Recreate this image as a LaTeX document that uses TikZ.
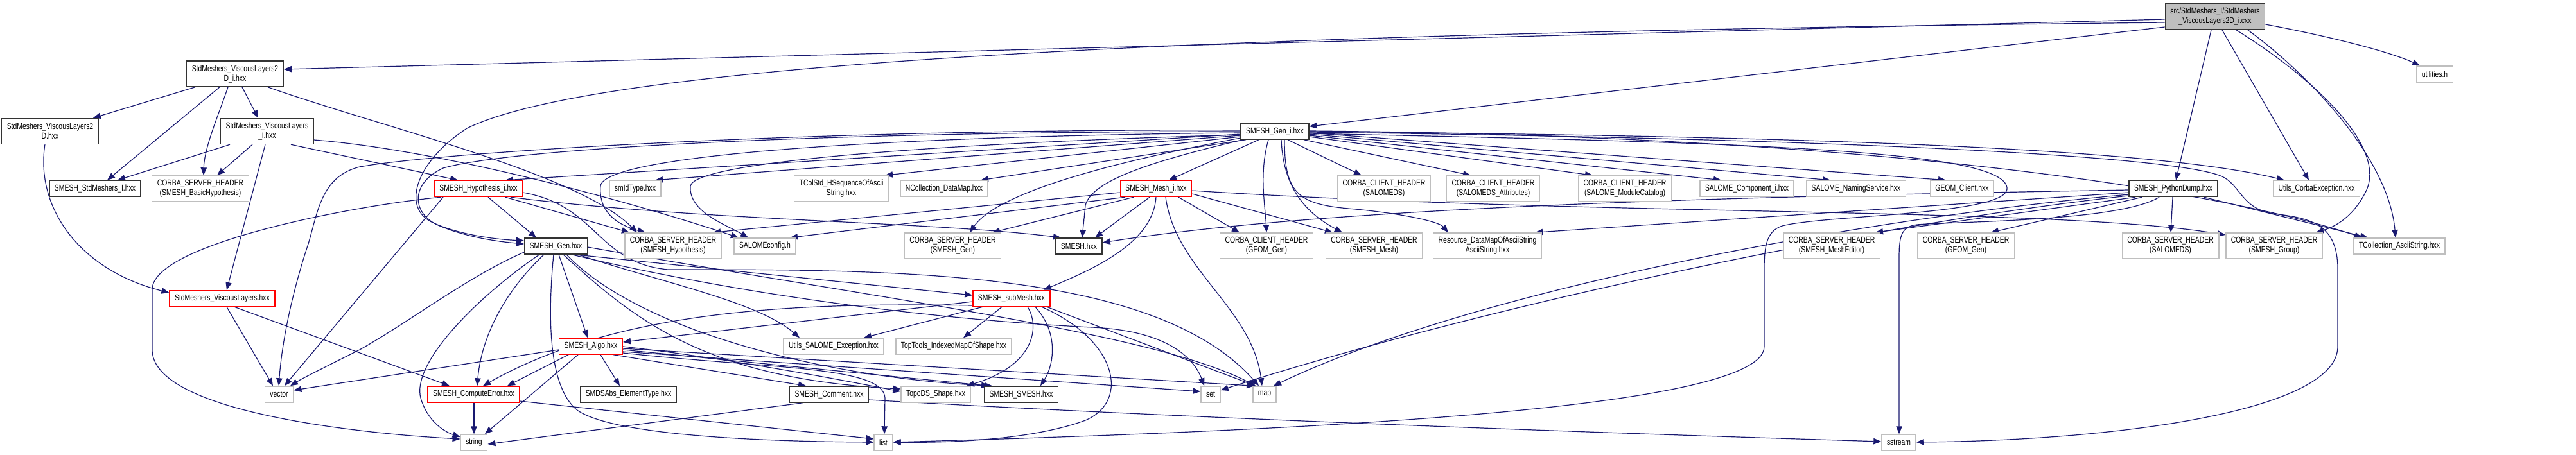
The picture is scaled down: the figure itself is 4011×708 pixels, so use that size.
\documentclass[tikz,border=0pt]{standalone}
\usepackage{fontspec}
\setmainfont{Liberation Sans}[FakeStretch=0.78]
\usetikzlibrary{arrows.meta}
\definecolor{mblue}{HTML}{191970}
\definecolor{gbord}{HTML}{BFBFBF}
\definecolor{gfill}{HTML}{BFBFBF}
\pgfdeclarelayer{bg}
\pgfsetlayers{bg,main}
\newcommand\nd[6]{\node[#1, minimum height=#5*0.75pt] (#2) at (#3,#4) {#6};}
\tikzset{
 base/.style={rectangle, inner xsep=6pt, inner ysep=0pt, align=center, font=\fontsize{10}{11.25}\selectfont, fill=white, line width=1.1pt},
 nblack/.style={base, draw=black!80},
 ngrey/.style={base, draw=gbord},
 nred/.style={base, draw=red},
 nroot/.style={base, draw=black!80, fill=gfill},
 edg/.style={draw=mblue, line width=0.9pt, -{Triangle[length=9pt,width=7pt]}}
}
\begin{document}
\begin{tikzpicture}[x=0.75pt,y=-0.75pt]
\useasboundingbox (0,0) rectangle (4011,708);
\nd{nroot}{root}{3449}{26}{40}{src/StdMeshers\_I/StdMeshers\\\_ViscousLayers2D\_i.cxx}
\nd{nblack}{vl2di}{366}{115}{40}{StdMeshers\_ViscousLayers2\\D\_i.hxx}
\nd{ngrey}{utilh}{3791}{115.5}{25}{utilities.h}
\nd{nblack}{vl2d}{78}{204.5}{40}{StdMeshers\_ViscousLayers2\\D.hxx}
\nd{nblack}{vli}{416}{204.5}{40}{StdMeshers\_ViscousLayers\\\_i.hxx}
\nd{nblack}{geni}{1985}{204.5}{25}{SMESH\_Gen\_i.hxx}
\nd{nblack}{stdI}{148}{294}{25}{SMESH\_StdMeshers\_I.hxx}
\nd{ngrey}{bhyp}{312}{294}{40}{CORBA\_SERVER\_HEADER\\(SMESH\_BasicHypothesis)}
\nd{nred}{hypi}{745}{294}{25}{SMESH\_Hypothesis\_i.hxx}
\nd{ngrey}{smid}{989}{294}{25}{smIdType.hxx}
\nd{ngrey}{tcolstd}{1310}{294}{40}{TColStd\_HSequenceOfAscii\\String.hxx}
\nd{ngrey}{ncoll}{1470}{294}{25}{NCollection\_DataMap.hxx}
\nd{nred}{meshi}{1800}{294}{25}{SMESH\_Mesh\_i.hxx}
\nd{ngrey}{ccsalomeds}{2155}{294}{40}{CORBA\_CLIENT\_HEADER\\(SALOMEDS)}
\nd{ngrey}{ccattr}{2325}{294}{40}{CORBA\_CLIENT\_HEADER\\(SALOMEDS\_Attributes)}
\nd{ngrey}{ccmodcat}{2530}{294}{40}{CORBA\_CLIENT\_HEADER\\(SALOME\_ModuleCatalog)}
\nd{ngrey}{compi}{2720}{294}{25}{SALOME\_Component\_i.hxx}
\nd{ngrey}{naming}{2890}{294}{25}{SALOME\_NamingService.hxx}
\nd{ngrey}{geomcl}{3055}{294}{25}{GEOM\_Client.hxx}
\nd{nblack}{pydump}{3384}{294}{25}{SMESH\_PythonDump.hxx}
\nd{ngrey}{corbaexc}{3607}{294}{25}{Utils\_CorbaException.hxx}
\nd{nblack}{gen}{865.5}{383.5}{25}{SMESH\_Gen.hxx}
\nd{ngrey}{cshyp}{1048}{383}{40}{CORBA\_SERVER\_HEADER\\(SMESH\_Hypothesis)}
\nd{ngrey}{saloconf}{1191}{383.5}{25}{SALOMEconfig.h}
\nd{ngrey}{csgen}{1483.5}{383}{40}{CORBA\_SERVER\_HEADER\\(SMESH\_Gen)}
\nd{nblack}{smeshh}{1680}{383.5}{25}{SMESH.hxx}
\nd{ngrey}{ccgeom}{1972}{383}{40}{CORBA\_CLIENT\_HEADER\\(GEOM\_Gen)}
\nd{ngrey}{csmesh}{2139.5}{383}{40}{CORBA\_SERVER\_HEADER\\(SMESH\_Mesh)}
\nd{ngrey}{resource}{2316}{383}{40}{Resource\_DataMapOfAsciiString\\AsciiString.hxx}
\nd{ngrey}{csmeshed}{2852}{383}{40}{CORBA\_SERVER\_HEADER\\(SMESH\_MeshEditor)}
\nd{ngrey}{csgeomgen}{3061}{383}{40}{CORBA\_SERVER\_HEADER\\(GEOM\_Gen)}
\nd{ngrey}{cssalomeds}{3379.5}{383}{40}{CORBA\_SERVER\_HEADER\\(SALOMEDS)}
\nd{ngrey}{csgroup}{3541}{383}{40}{CORBA\_SERVER\_HEADER\\(SMESH\_Group)}
\nd{ngrey}{tcoll}{3736}{383.5}{25}{TCollection\_AsciiString.hxx}
\nd{nred}{vl}{346}{465}{25}{StdMeshers\_ViscousLayers.hxx}
\nd{nred}{submesh}{1575}{465}{25}{SMESH\_subMesh.hxx}
\nd{nred}{algo}{920}{539.5}{25}{SMESH\_Algo.hxx}
\nd{ngrey}{utilsexc}{1298}{539.5}{25}{Utils\_SALOME\_Exception.hxx}
\nd{ngrey}{toptools}{1485}{539.5}{25}{TopTools\_IndexedMapOfShape.hxx}
\nd{ngrey}{vector}{434.5}{614.5}{25}{vector}
\nd{nred}{computeerr}{737.5}{614.5}{25}{SMESH\_ComputeError.hxx}
\nd{nblack}{smdsabs}{978.5}{614.5}{25}{SMDSAbs\_ElementType.hxx}
\nd{nblack}{comment}{1291}{614.5}{25}{SMESH\_Comment.hxx}
\nd{ngrey}{topods}{1457}{614.5}{25}{TopoDS\_Shape.hxx}
\nd{nblack}{smeshsmesh}{1590}{614.5}{25}{SMESH\_SMESH.hxx}
\nd{ngrey}{set}{1885}{614.5}{25}{set}
\nd{ngrey}{map}{1969}{614.5}{25}{map}
\nd{ngrey}{string}{738}{689.5}{25}{string}
\nd{ngrey}{list}{1375.5}{689.5}{25}{list}
\nd{ngrey}{sstream}{2956.5}{689.5}{25}{sstream}

\begin{pgfonlayer}{bg}
% root
\draw[edg] (root.west |- 0,30) -- (vl2di.east |- 0,108);
\draw[edg] (root.west |- 0,35) .. controls (2000,50) and (950,90) .. (727,200) .. controls (650,250) and (625,320) .. (670,345) .. controls (710,365) and (770,373) .. (gen.west |- 0,375);
\draw[edg] (root.west |- 0,42) -- (geni.east |- 0,197);
\draw[edg] (root.south -| 3443,0) -- (pydump.north -| 3388,0);
\draw[edg] (root.south -| 3460,0) -- (corbaexc.north -| 3595,0);
\draw[edg] (root.south -| 3482,0) .. controls (3600,120) and (3720,230) .. (3683,300) .. controls (3665,335) and (3640,352) .. (csgroup.north -| 3606,0);
\draw[edg] (root.south -| 3500,0) .. controls (3600,120) and (3720,250) .. (tcoll.north -| 3730,0);
\draw[edg] (root.east |- 0,38) .. controls (3620,55) and (3720,80) .. (utilh.north -| 3768,0);
% vl2di
\draw[edg] (vl2di.south -| 304,0) -- (vl2d.north -| 145,0);
\draw[edg] (vl2di.south -| 342,0) -- (stdI.north -| 167,0);
\draw[edg] (vl2di.south -| 355,0) .. controls (340,180) and (318,230) .. (bhyp.north -| 317,0);
\draw[edg] (vl2di.south -| 377,0) -- (vli.north -| 402,0);
\draw[edg] (vl2di.south -| 417,0) .. controls (600,200) and (900,270) .. (cshyp.north -| 992,0);
% vl2d
\draw[edg] (vl2d.south -| 70,0) .. controls (55,320) and (120,420) .. (vl.west |- 0,456);
% vli
\draw[edg] (vli.south -| 358,0) -- (stdI.north -| 183,0);
\draw[edg] (vli.south -| 393,0) -- (bhyp.north -| 338,0);
\draw[edg] (vli.south -| 413,0) -- (vl.north -| 353,0);
\draw[edg] (vli.south -| 453,0) -- (hypi.north -| 713,0);
\draw[edg] (vli.east |- 0,218) .. controls (700,235) and (1000,320) .. (saloconf.north -| 1150,0);
% geni
\draw[edg] (geni.west |- 0,209) -- (hypi.north -| 787,0);
\draw[edg] (geni.west |- 0,211) -- (smid.north -| 1020,0);
\draw[edg] (geni.west |- 0,213) -- (tcolstd.north -| 1378,0);
\draw[edg] (geni.south -| 1940,0) -- (ncoll.north -| 1527,0);
\draw[edg] (geni.south -| 1960,0) -- (meshi.north -| 1820,0);
\draw[edg] (geni.south -| 2005,0) -- (ccsalomeds.north -| 2120,0);
\draw[edg] (geni.south -| 2030,0) -- (ccattr.north -| 2290,0);
\draw[edg] (geni.east |- 0,213) -- (ccmodcat.north -| 2480,0);
\draw[edg] (geni.east |- 0,211) -- (compi.north -| 2680,0);
\draw[edg] (geni.east |- 0,209) -- (naming.north -| 2850,0);
\draw[edg] (geni.east |- 0,207) -- (geomcl.north -| 3030,0);
\draw[edg] (geni.east |- 0,205) .. controls (2800,212) and (3350,230) .. (corbaexc.north -| 3557,0);
\draw[edg] (geni.east |- 0,204) .. controls (3000,212) and (3500,310) .. (tcoll.north -| 3678,0);
\draw[edg] (geni.east |- 0,206) .. controls (2800,215) and (3380,240) .. (3460,275) .. controls (3490,290) and (3490,325) .. (3540,333) .. controls (3600,340) and (3640,350) .. (3640,420) -- (3640,540) .. controls (3640,640) and (3300,686) .. (sstream.east |- 0,689);
\draw[edg] (geni.east |- 0,208) .. controls (2700,222) and (3130,232) .. (3125,295) .. controls (3120,335) and (2840,335) .. (2775,352) .. controls (2750,360) and (2747,385) .. (2747,420) -- (2747,540) .. controls (2747,640) and (2000,672) .. (list.east |- 0,689);
\draw[edg] (geni.west |- 0,205) .. controls (1300,205) and (800,230) .. (690,262) .. controls (640,285) and (640,330) .. (680,350) .. controls (720,368) and (770,376) .. (gen.west |- 0,380);
\draw[edg] (geni.west |- 0,203) .. controls (1300,200) and (700,235) .. (560,260) .. controls (500,275) and (495,330) .. (480,380) .. controls (460,440) and (440,520) .. (vector.north -| 434,0);
\draw[edg] (geni.west |- 0,207) .. controls (1400,212) and (940,240) .. (935,290) .. controls (932,330) and (960,350) .. (cshyp.north -| 1005,0);
\draw[edg] (geni.west |- 0,210) .. controls (1500,222) and (1080,250) .. (1075,290) .. controls (1072,330) and (1130,350) .. (saloconf.north -| 1165,0);
\draw[edg] (geni.west |- 0,215) .. controls (1800,240) and (1560,290) .. (csgen.north -| 1510,0);
\draw[edg] (geni.south -| 1935,0) .. controls (1800,250) and (1700,280) .. (1690,320) -- (smeshh.north -| 1685,0);
\draw[edg] (geni.south -| 1975,0) .. controls (1960,270) and (1970,320) .. (ccgeom.north -| 1972,0);
\draw[edg] (geni.south -| 1995,0) .. controls (1998,290) and (2030,330) .. (csmesh.north -| 2090,0);
\draw[edg] (geni.south -| 2000,0) .. controls (2000,300) and (2020,318) .. (2100,325) .. controls (2180,332) and (2240,345) .. (resource.north -| 2255,0);
% hypi
\draw[edg] (hypi.south -| 760,0) -- (gen.north -| 835,0);
\draw[edg] (hypi.south -| 787,0) -- (cshyp.north -| 980,0);
\draw[edg] (hypi.south -| 795,0) .. controls (1100,345) and (1450,345) .. (smeshh.north -| 1652,0);
\draw[edg] (hypi.east |- 0,300) .. controls (930,320) and (930,410) .. (1040,420) .. controls (1400,420) and (1800,420) .. (map.north -| 1960,0);
\draw[edg] (hypi.south -| 690,0) -- (vector.north -| 443,0);
\draw[edg] (hypi.south -| 687,0) .. controls (550,320) and (240,380) .. (237,450) -- (237,545) .. controls (237,640) and (550,675) .. (string.west |- 0,684);
% meshi
\draw[edg] (meshi.west |- 0,300) -- (cshyp.north -| 1110,0);
\draw[edg] (meshi.south -| 1752,0) -- (saloconf.north -| 1230,0);
\draw[edg] (meshi.south -| 1765,0) -- (csgen.north -| 1545,0);
\draw[edg] (meshi.south -| 1790,0) -- (smeshh.north -| 1705,0);
\draw[edg] (meshi.south -| 1835,0) -- (ccgeom.north -| 1930,0);
\draw[edg] (meshi.east |- 0,302) -- (csmesh.north -| 2075,0);
\draw[edg] (meshi.east |- 0,297) .. controls (2500,338) and (3200,322) .. (csgroup.west |- 0,366);
\draw[edg] (meshi.south -| 1800,0) .. controls (1795,380) and (1700,420) .. (submesh.north -| 1625,0);
\draw[edg] (meshi.south -| 1815,0) .. controls (1830,420) and (1950,480) .. (map.north -| 1965,0);
% pydump
\draw[edg] (pydump.south -| 3383,0) -- (cssalomeds.north -| 3380,0);
\draw[edg] (pydump.south -| 3325,0) -- (csmeshed.north -| 2920,0);
\draw[edg] (pydump.south -| 3335,0) -- (csgeomgen.north -| 3100,0);
\draw[edg] (pydump.south -| 3362,0) .. controls (3300,345) and (3050,345) .. (2985,350) .. controls (2962,353) and (2957,365) .. (2957,400) -- (sstream.north -| 2957,0);
\draw[edg] (pydump.south -| 3432,0) -- (tcoll.north -| 3687,0);
\draw[edg] (pydump.west |- 0,296) .. controls (2800,305) and (2100,318) .. (smeshh.east |- 0,378);
\draw[edg] (pydump.west |- 0,300) -- (resource.north -| 2390,0);
\draw[edg] (pydump.west |- 0,303) .. controls (2900,340) and (2300,450) .. (map.north -| 1983,0);
\draw[edg] (pydump.west |- 0,305) .. controls (2900,350) and (2300,480) .. (set.east |- 0,608);
% gen
\draw[edg] (gen.south -| 895,0) -- (submesh.west |- 0,460);
\draw[edg] (gen.south -| 870,0) -- (algo.north -| 915,0);
\draw[edg] (gen.south -| 847,0) .. controls (790,450) and (750,520) .. (computeerr.north -| 743,0);
\draw[edg] (gen.south -| 900,0) .. controls (1030,440) and (1180,470) .. (utilsexc.north -| 1245,0);
\draw[edg] (gen.south -| 877,0) .. controls (990,500) and (1100,590) .. (topods.west |- 0,606);
\draw[edg] (gen.south -| 882,0) .. controls (1000,520) and (1300,590) .. (smeshsmesh.north -| 1545,0);
\draw[edg] (gen.south -| 890,0) .. controls (1200,470) and (1500,500) .. (1700,510) .. controls (1820,515) and (1860,560) .. (set.north -| 1875,0);
\draw[edg] (gen.east |- 0,385) .. controls (1400,470) and (1800,520) .. (map.north -| 1955,0);
\draw[edg] (gen.south -| 862,0) .. controls (850,520) and (860,610) .. (900,640) .. controls (960,680) and (1200,688) .. (list.west |- 0,689);
\draw[edg] (gen.south -| 840,0) .. controls (760,450) and (640,560) .. (655,620) .. controls (665,655) and (690,672) .. (string.west |- 0,681);
\draw[edg] (gen.west |- 0,393) .. controls (730,430) and (640,500) .. (560,545) .. controls (500,575) and (470,590) .. (vector.north -| 452,0);
% submesh
\draw[edg] (submesh.west |- 0,470) -- (algo.east |- 0,533);
\draw[edg] (submesh.west |- 0,476) .. controls (1200,470) and (950,490) .. (computeerr.north -| 752,0);
\draw[edg] (submesh.south -| 1530,0) -- (utilsexc.north -| 1345,0);
\draw[edg] (submesh.south -| 1560,0) -- (toptools.north -| 1500,0);
\draw[edg] (submesh.south -| 1600,0) .. controls (1620,510) and (1610,570) .. (topods.north -| 1505,0);
\draw[edg] (submesh.south -| 1612,0) .. controls (1650,520) and (1640,570) .. (smeshsmesh.north -| 1620,0);
\draw[edg] (submesh.south -| 1622,0) .. controls (1740,530) and (1760,625) .. (1690,655) .. controls (1600,688) and (1460,690) .. (list.east |- 0,689);
\draw[edg] (submesh.south -| 1630,0) -- (map.north -| 1955,0);
% algo
\draw[edg] (algo.south -| 885,0) -- (computeerr.north -| 790,0);
\draw[edg] (algo.south -| 900,0) -- (string.north -| 755,0);
\draw[edg] (algo.west |- 0,545) -- (vector.east |- 0,608);
\draw[edg] (algo.south -| 935,0) -- (smdsabs.north -| 965,0);
\draw[edg] (algo.south -| 955,0) -- (comment.north -| 1255,0);
\draw[edg] (algo.east |- 0,540) .. controls (1150,560) and (1350,600) .. (topods.west |- 0,610);
\draw[edg] (algo.east |- 0,545) -- (smeshsmesh.north -| 1540,0);
\draw[edg] (algo.east |- 0,550) .. controls (1200,575) and (1375,570) .. (1378,620) -- (list.north -| 1377,0);
\draw[edg] (algo.east |- 0,548) -- (set.west |- 0,610);
\draw[edg] (algo.east |- 0,543) -- (map.north -| 1953,0);
% computeerr, comment, vl
\draw[edg] (computeerr.south -| 738,0) -- (string.north -| 738,0);
\draw[edg] (computeerr.east |- 0,625) -- (list.west |- 0,684);
\draw[edg] (comment.south -| 1250,0) -- (string.east |- 0,692);
\draw[edg] (comment.east |- 0,623) .. controls (1900,655) and (2600,678) .. (sstream.west |- 0,688);
\draw[edg] (vl.south -| 353,0) -- (vector.north -| 425,0);
\draw[edg] (vl.south -| 365,0) -- (computeerr.north -| 700,0);
\end{pgfonlayer}
\end{tikzpicture}
\end{document}
